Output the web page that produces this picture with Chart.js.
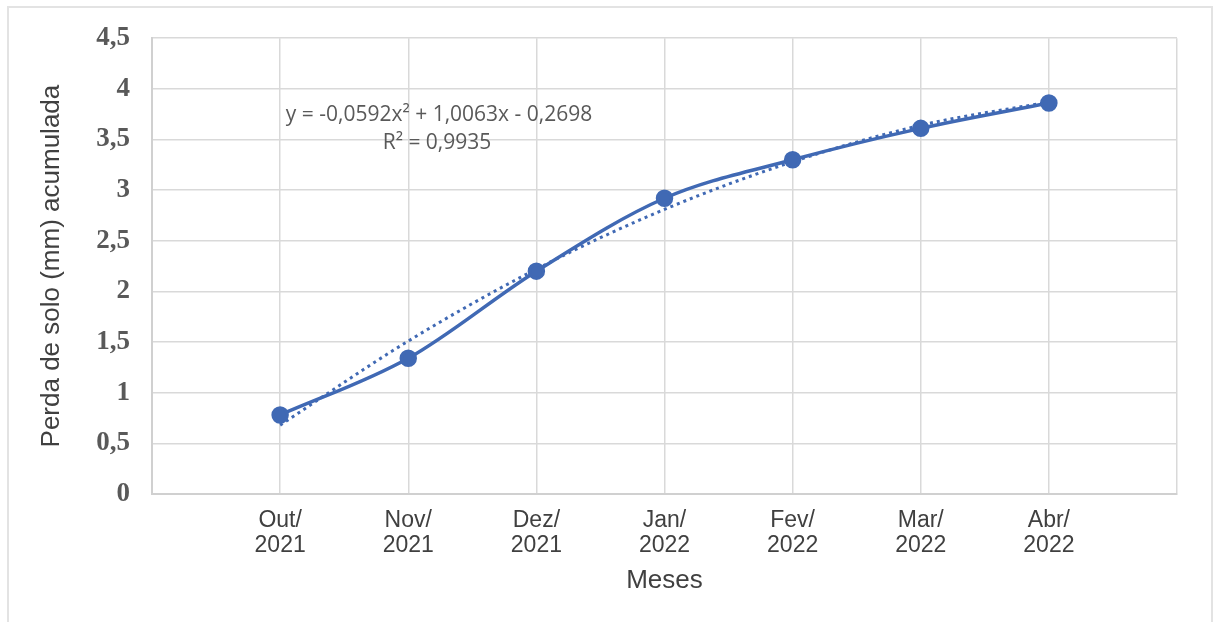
<!DOCTYPE html>
<html>
<head>
<meta charset="utf-8">
<script src="https://cdn.jsdelivr.net/npm/chart.js@4.4.1/dist/chart.umd.min.js"></script>
<style>
  html, body { margin: 0; padding: 0; background: #fff; }
  #wrap { position: relative; width: 1213px; height: 622px; }
  #frame { position: absolute; left: 7px; top: 6px; width: 1206px; height: 630px;
           border: 2px solid #e3e3e3; box-sizing: border-box; }
  canvas { position: absolute; left: 0; top: 0; }
</style>
</head>
<body>
<div id="wrap">
  <div id="frame"></div>
  <canvas id="chart" width="1213" height="622"></canvas>
</div>
<script>
// months on the x axis (position 1..7, with an empty slot on each side)
const months = [['Out/', '2021'], ['Nov/', '2021'], ['Dez/', '2021'], ['Jan/', '2022'],
                ['Fev/', '2022'], ['Mar/', '2022'], ['Abr/', '2022']];
// accumulated soil loss (mm)
const perda = [0.78, 1.34, 2.20, 2.92, 3.30, 3.61, 3.86];
// polynomial trend line
const tendencia = [0.68, 1.51, 2.22, 2.81, 3.28, 3.64, 3.87];
const yTicks = [0, 0.5, 1, 1.5, 2, 2.5, 3, 3.5, 4, 4.5];
const equation = 'y = -0,0592x² + 1,0063x - 0,2698';
const r2 = 'R² = 0,9935';

const blue = '#4069b4';
const toPoints = arr => arr.map((v, i) => ({ x: i + 1, y: v }));

// draws the trend line equation like Excel does
const equationLabel = {
  id: 'equationLabel',
  afterDraw(chart) {
    const ctx = chart.ctx;
    ctx.save();
    ctx.fillStyle = '#595959';
    ctx.font = '21px "Open Sans"';
    ctx.textAlign = 'center';
    ctx.textBaseline = 'middle';
    ctx.fillText(equation, 439, 115);
    ctx.fillText(r2, 437, 143);
    ctx.restore();
  }
};

new Chart(document.getElementById('chart').getContext('2d'), {
  type: 'line',
  data: {
    datasets: [{
      label: 'Perda',
      data: toPoints(perda),
      borderColor: blue,
      backgroundColor: blue,
      borderWidth: 3.5,
      pointRadius: 7,
      pointHoverRadius: 7,
      tension: 0.4,
      cubicInterpolationMode: 'monotone'
    }, {
      label: 'Tendência',
      data: toPoints(tendencia),
      borderColor: blue,
      borderWidth: 3,
      borderDash: [3, 4],
      pointRadius: 0,
      tension: 0.4,
      cubicInterpolationMode: 'monotone'
    }]
  },
  options: {
    responsive: false,
    animation: false,
    events: [],
    layout: { padding: { top: 38, right: 36, left: 0, bottom: 0 } },
    plugins: { legend: { display: false }, tooltip: { enabled: false } },
    scales: {
      x: {
        type: 'linear',
        min: 0,
        max: 8,
        afterBuildTicks: s => { s.ticks = [0, 1, 2, 3, 4, 5, 6, 7, 8].map(v => ({ value: v })); },
        afterFit: s => { s.height = 128; },
        grid: { color: '#d9d9d9', lineWidth: 1.5, drawTicks: false },
        border: { color: '#d0d0d0', width: 2 },
        ticks: {
          color: '#404040',
          font: { family: 'Liberation Sans', size: 23, lineHeight: 1.05 },
          padding: 15,
          maxRotation: 0,
          autoSkip: false,
          callback: v => (v >= 1 && v <= 7 ? months[v - 1] : '')
        },
        title: {
          display: true,
          text: 'Meses',
          color: '#404040',
          font: { family: 'Liberation Sans', size: 26 },
          padding: { top: 0, bottom: 26 }
        }
      },
      y: {
        min: 0,
        max: 4.5,
        afterBuildTicks: s => { s.ticks = yTicks.map(v => ({ value: v })); },
        afterFit: s => { s.width = 152; },
        grid: { color: '#d9d9d9', lineWidth: 1.5, drawTicks: false },
        border: { color: '#d0d0d0', width: 2 },
        ticks: {
          color: '#595959',
          font: { family: 'Liberation Serif', size: 27, weight: 'bold' },
          padding: 22,
          callback: v => String(v).replace('.', ',')
        },
        title: {
          display: true,
          text: 'Perda de solo (mm) acumulada',
          color: '#404040',
          font: { family: 'Liberation Sans', size: 26 },
          padding: { top: 36, bottom: 0 }
        }
      }
    }
  },
  plugins: [equationLabel]
});
</script>
</body>
</html>
